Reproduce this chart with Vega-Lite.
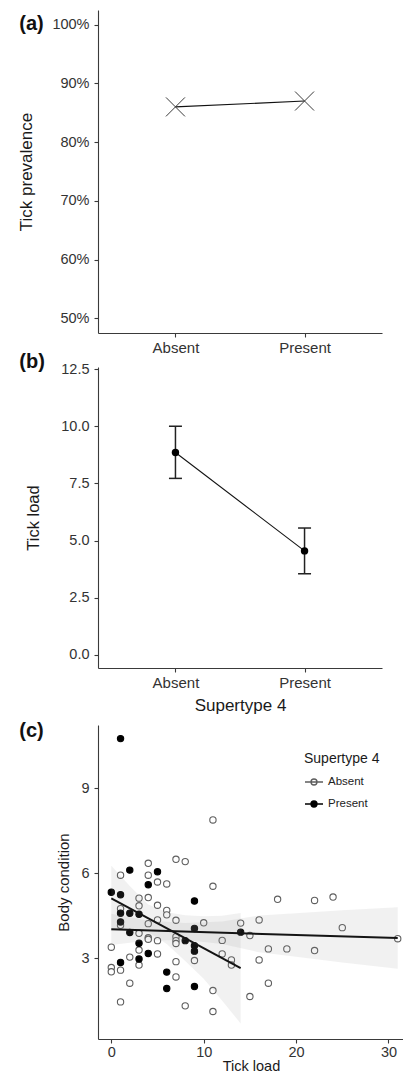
{
  "$schema": "https://vega.github.io/schema/vega-lite/v6.json",
  "padding": {"left": 17, "top": 10, "right": 0, "bottom": 0},
  "spacing": -3,
  "resolve": {"legend": {"stroke": "independent", "fill": "independent"}},
  "config": {
    "font": "Liberation Sans",
    "view": {"stroke": null},
    "axis": {"grid": false, "domainColor": "#3a3a3a", "domainWidth": 1.1, "tickColor": "#3a3a3a", "tickWidth": 1.1, "tickSize": 4, "labelColor": "#333333", "titleColor": "#1a1a1a", "labelFontSize": 14.5, "titleFontSize": 17, "titleFontWeight": "normal"},
    "title": {"fontSize": 20, "fontWeight": "bold", "anchor": "start", "frame": "group", "color": "#111111"}
  },
  "datasets": {
    "prev": [
      {"supertype": "Absent", "prevalence": 0.86},
      {"supertype": "Present", "prevalence": 0.87}
    ],
    "load": [
      {"supertype": "Absent", "mean": 8.85, "lo": 7.72, "hi": 10.0},
      {"supertype": "Present", "mean": 4.55, "lo": 3.55, "hi": 5.55}
    ],
    "body": [
      {"supertype": "Absent", "load": 0, "condition": 3.39},
      {"supertype": "Absent", "load": 0, "condition": 2.67},
      {"supertype": "Absent", "load": 0, "condition": 2.52},
      {"supertype": "Absent", "load": 1, "condition": 5.93},
      {"supertype": "Absent", "load": 1, "condition": 4.75},
      {"supertype": "Absent", "load": 1, "condition": 4.16},
      {"supertype": "Absent", "load": 1, "condition": 2.58},
      {"supertype": "Absent", "load": 1, "condition": 1.46},
      {"supertype": "Absent", "load": 2, "condition": 3.04},
      {"supertype": "Absent", "load": 2, "condition": 2.12},
      {"supertype": "Absent", "load": 3, "condition": 5.12},
      {"supertype": "Absent", "load": 3, "condition": 4.85},
      {"supertype": "Absent", "load": 3, "condition": 3.88},
      {"supertype": "Absent", "load": 3, "condition": 3.29},
      {"supertype": "Absent", "load": 3, "condition": 2.76},
      {"supertype": "Absent", "load": 4, "condition": 6.35},
      {"supertype": "Absent", "load": 4, "condition": 5.93},
      {"supertype": "Absent", "load": 4, "condition": 5.14},
      {"supertype": "Absent", "load": 4, "condition": 4.22},
      {"supertype": "Absent", "load": 4, "condition": 3.72},
      {"supertype": "Absent", "load": 4, "condition": 3.67},
      {"supertype": "Absent", "load": 5, "condition": 5.69},
      {"supertype": "Absent", "load": 5, "condition": 4.87},
      {"supertype": "Absent", "load": 5, "condition": 4.35},
      {"supertype": "Absent", "load": 5, "condition": 3.62},
      {"supertype": "Absent", "load": 5, "condition": 3.15},
      {"supertype": "Absent", "load": 6, "condition": 5.62},
      {"supertype": "Absent", "load": 6, "condition": 4.69},
      {"supertype": "Absent", "load": 6, "condition": 4.53},
      {"supertype": "Absent", "load": 7, "condition": 6.49},
      {"supertype": "Absent", "load": 7, "condition": 4.34},
      {"supertype": "Absent", "load": 7, "condition": 3.76},
      {"supertype": "Absent", "load": 7, "condition": 3.62},
      {"supertype": "Absent", "load": 7, "condition": 3.52},
      {"supertype": "Absent", "load": 7, "condition": 2.88},
      {"supertype": "Absent", "load": 7, "condition": 2.34},
      {"supertype": "Absent", "load": 8, "condition": 6.41},
      {"supertype": "Absent", "load": 8, "condition": 1.32},
      {"supertype": "Absent", "load": 9, "condition": 2.92},
      {"supertype": "Absent", "load": 10, "condition": 4.25},
      {"supertype": "Absent", "load": 11, "condition": 7.88},
      {"supertype": "Absent", "load": 11, "condition": 5.54},
      {"supertype": "Absent", "load": 11, "condition": 1.86},
      {"supertype": "Absent", "load": 11, "condition": 1.12},
      {"supertype": "Absent", "load": 12, "condition": 3.63},
      {"supertype": "Absent", "load": 12, "condition": 3.15},
      {"supertype": "Absent", "load": 13, "condition": 2.94},
      {"supertype": "Absent", "load": 13, "condition": 2.76},
      {"supertype": "Absent", "load": 14, "condition": 4.24},
      {"supertype": "Absent", "load": 15, "condition": 3.8},
      {"supertype": "Absent", "load": 15, "condition": 1.65},
      {"supertype": "Absent", "load": 16, "condition": 4.35},
      {"supertype": "Absent", "load": 16, "condition": 2.94},
      {"supertype": "Absent", "load": 17, "condition": 3.33},
      {"supertype": "Absent", "load": 17, "condition": 2.12},
      {"supertype": "Absent", "load": 18, "condition": 5.08},
      {"supertype": "Absent", "load": 19, "condition": 3.33},
      {"supertype": "Absent", "load": 22, "condition": 5.04},
      {"supertype": "Absent", "load": 22, "condition": 3.27},
      {"supertype": "Absent", "load": 24, "condition": 5.16},
      {"supertype": "Absent", "load": 25, "condition": 4.08},
      {"supertype": "Absent", "load": 31, "condition": 3.69},
      {"supertype": "Present", "load": 0, "condition": 5.33},
      {"supertype": "Present", "load": 1, "condition": 10.75},
      {"supertype": "Present", "load": 1, "condition": 5.24},
      {"supertype": "Present", "load": 1, "condition": 4.59},
      {"supertype": "Present", "load": 1, "condition": 4.28},
      {"supertype": "Present", "load": 1, "condition": 2.85},
      {"supertype": "Present", "load": 2, "condition": 6.11},
      {"supertype": "Present", "load": 2, "condition": 4.59},
      {"supertype": "Present", "load": 2, "condition": 3.91},
      {"supertype": "Present", "load": 3, "condition": 4.55},
      {"supertype": "Present", "load": 3, "condition": 3.53},
      {"supertype": "Present", "load": 3, "condition": 2.97},
      {"supertype": "Present", "load": 4, "condition": 5.59},
      {"supertype": "Present", "load": 4, "condition": 3.17},
      {"supertype": "Present", "load": 5, "condition": 6.05},
      {"supertype": "Present", "load": 6, "condition": 2.51},
      {"supertype": "Present", "load": 6, "condition": 1.93},
      {"supertype": "Present", "load": 8, "condition": 3.62},
      {"supertype": "Present", "load": 9, "condition": 5.02},
      {"supertype": "Present", "load": 9, "condition": 4.05},
      {"supertype": "Present", "load": 9, "condition": 3.44},
      {"supertype": "Present", "load": 9, "condition": 3.25},
      {"supertype": "Present", "load": 9, "condition": 2.0},
      {"supertype": "Present", "load": 14, "condition": 3.92}
    ],
    "fit": [
      {"supertype": "Absent", "load": 0, "condition": 4.02},
      {"supertype": "Absent", "load": 31, "condition": 3.71},
      {"supertype": "Present", "load": 0, "condition": 5.11},
      {"supertype": "Present", "load": 14, "condition": 2.65}
    ],
    "band": [
      {"supertype": "Absent", "load": 0, "lo": 3.47, "hi": 4.57},
      {"supertype": "Absent", "load": 4, "lo": 3.63, "hi": 4.33},
      {"supertype": "Absent", "load": 8, "lo": 3.64, "hi": 4.24},
      {"supertype": "Absent", "load": 12, "lo": 3.5, "hi": 4.3},
      {"supertype": "Absent", "load": 16, "lo": 3.21, "hi": 4.51},
      {"supertype": "Absent", "load": 20, "lo": 3.05, "hi": 4.59},
      {"supertype": "Absent", "load": 25, "lo": 2.85, "hi": 4.69},
      {"supertype": "Absent", "load": 31, "lo": 2.63, "hi": 4.8},
      {"supertype": "Present", "load": 0, "lo": 3.96, "hi": 6.26},
      {"supertype": "Present", "load": 2, "lo": 4.0, "hi": 5.55},
      {"supertype": "Present", "load": 4, "lo": 3.93, "hi": 4.9},
      {"supertype": "Present", "load": 6, "lo": 3.5, "hi": 4.62},
      {"supertype": "Present", "load": 8, "lo": 2.9, "hi": 4.52},
      {"supertype": "Present", "load": 10, "lo": 2.28, "hi": 4.48},
      {"supertype": "Present", "load": 12, "lo": 1.5, "hi": 4.5},
      {"supertype": "Present", "load": 14, "lo": 0.7, "hi": 4.6}
    ]
  },
  "vconcat": [
    {
      "width": 284,
      "height": 323,
      "title": {"text": "(a)", "dx": -78.7, "dy": 34, "offset": 0, "baseline": "middle"},
      "data": {"name": "prev"},
      "encoding": {
        "x": {"field": "supertype", "type": "nominal", "scale": {"type": "point", "padding": 0.6}, "axis": {"title": null, "labelAngle": 0, "labelPadding": 3, "labelFontSize": 15}},
        "y": {"field": "prevalence", "type": "quantitative", "scale": {"domain": [0.475, 1.025], "nice": false, "zero": false}, "axis": {"title": "Tick prevalence", "format": ".0%", "values": [0.5, 0.6, 0.7, 0.8, 0.9, 1.0], "labelPadding": 5, "titlePadding": 16}}
      },
      "layer": [
        {"mark": {"type": "line", "color": "#111111", "strokeWidth": 1.1}},
        {"mark": {"type": "point", "shape": "M-1,-1L1,1M-1,1L1,-1", "size": 361, "filled": false, "color": "#3a3a3a", "strokeWidth": 1, "opacity": 1}}
      ]
    },
    {
      "width": 284,
      "height": 301,
      "title": {"text": "(b)", "dx": -78.7, "dy": 21.25, "offset": 0, "baseline": "middle"},
      "data": {"name": "load"},
      "encoding": {
        "x": {"field": "supertype", "type": "nominal", "scale": {"type": "point", "padding": 0.6}, "title": ["Supertype 4", ""], "axis": {"labelAngle": 0, "labelPadding": 3, "labelFontSize": 15, "titlePadding": 7, "titleLineHeight": 11}}
      },
      "layer": [
        {"mark": {"type": "line", "color": "#111111", "strokeWidth": 1.1}, "encoding": {"y": {"field": "mean", "type": "quantitative", "title": "Tick load", "scale": {"domain": [-0.57, 12.59], "nice": false, "zero": false}, "axis": {"values": [0, 2.5, 5, 7.5, 10, 12.5], "format": ".1f", "labelPadding": 5, "titlePadding": 19, "titleFontSize": 16.5}}}},
        {"mark": {"type": "rule", "color": "#222222", "strokeWidth": 1.5}, "encoding": {"y": {"field": "lo", "type": "quantitative", "title": "Tick load"}, "y2": {"field": "hi"}}},
        {"mark": {"type": "tick", "color": "#222222", "size": 13, "thickness": 1.5, "opacity": 1}, "encoding": {"y": {"field": "lo", "type": "quantitative", "title": "Tick load"}}},
        {"mark": {"type": "tick", "color": "#222222", "size": 13, "thickness": 1.5, "opacity": 1}, "encoding": {"y": {"field": "hi", "type": "quantitative", "title": "Tick load"}}},
        {"mark": {"type": "point", "filled": true, "color": "#000000", "size": 55, "opacity": 1}, "encoding": {"y": {"field": "mean", "type": "quantitative", "title": "Tick load"}}}
      ]
    },
    {
      "width": 306,
      "height": 314,
      "title": {"text": "(c)", "dx": -78.7, "dy": 26, "offset": 0, "baseline": "middle"},
      "layer": [
        {
          "data": {"name": "body"},
          "mark": {"type": "point", "shape": "circle", "size": 40, "strokeWidth": 1.1, "opacity": 1},
          "encoding": {
            "x": {"field": "load", "type": "quantitative", "title": "Tick load", "scale": {"domain": [-1.44, 31.68], "nice": false, "zero": false}, "axis": {"values": [0, 10, 20, 30], "labelPadding": 2, "titlePadding": 0.5, "titleFontSize": 14.5}},
            "y": {"field": "condition", "type": "quantitative", "title": "Body condition", "scale": {"domain": [0.15, 11.23], "nice": false, "zero": false}, "axis": {"values": [3, 6, 9], "labelPadding": 5, "titlePadding": 9, "titleFontSize": 15}},
            "stroke": {"field": "supertype", "type": "nominal", "scale": {"domain": ["Absent", "Present"], "range": ["#5e5e5e", "#000000"]}, "legend": {"title": "Supertype 4", "orient": "none", "legendX": 206, "legendY": 27, "symbolType": "M-1,0L1,0M-0.33,0A0.33,0.33 0 1 1 0.33,0A0.33,0.33 0 1 1 -0.33,0Z", "symbolSize": 324, "symbolStrokeWidth": 1.4, "titleFontSize": 14, "titleFontWeight": "normal", "titleColor": "#1a1a1a", "labelFontSize": 11.5, "labelColor": "#222222", "labelOffset": 4, "rowPadding": 6, "titlePadding": 6, "padding": 0}},
            "fill": {"field": "supertype", "type": "nominal", "scale": {"domain": ["Absent", "Present"], "range": ["#ffffff", "#000000"]}, "legend": {"title": "Supertype 4", "orient": "none", "legendX": 206, "legendY": 27, "symbolType": "M-1,0L1,0M-0.33,0A0.33,0.33 0 1 1 0.33,0A0.33,0.33 0 1 1 -0.33,0Z", "symbolSize": 324, "symbolStrokeWidth": 1.4, "titleFontSize": 14, "titleFontWeight": "normal", "titleColor": "#1a1a1a", "labelFontSize": 11.5, "labelColor": "#222222", "labelOffset": 4, "rowPadding": 6, "titlePadding": 6, "padding": 0}}
          }
        },
        {
          "data": {"name": "band"},
          "mark": {"type": "area", "color": "#8c8c8c", "opacity": 0.12},
          "encoding": {
            "x": {"field": "load", "type": "quantitative", "title": "Tick load", "scale": {"domain": [-1.44, 31.68], "nice": false, "zero": false}},
            "y": {"field": "lo", "type": "quantitative", "title": "Body condition", "scale": {"domain": [0.15, 11.23], "nice": false, "zero": false}},
            "y2": {"field": "hi"},
            "detail": {"field": "supertype", "type": "nominal"}
          }
        },
        {
          "data": {"name": "fit"},
          "mark": {"type": "line", "color": "#141414", "strokeWidth": 2},
          "encoding": {
            "x": {"field": "load", "type": "quantitative", "title": "Tick load", "scale": {"domain": [-1.44, 31.68], "nice": false, "zero": false}},
            "y": {"field": "condition", "type": "quantitative", "title": "Body condition", "scale": {"domain": [0.15, 11.23], "nice": false, "zero": false}},
            "detail": {"field": "supertype", "type": "nominal"}
          }
        }
      ]
    }
  ]
}
